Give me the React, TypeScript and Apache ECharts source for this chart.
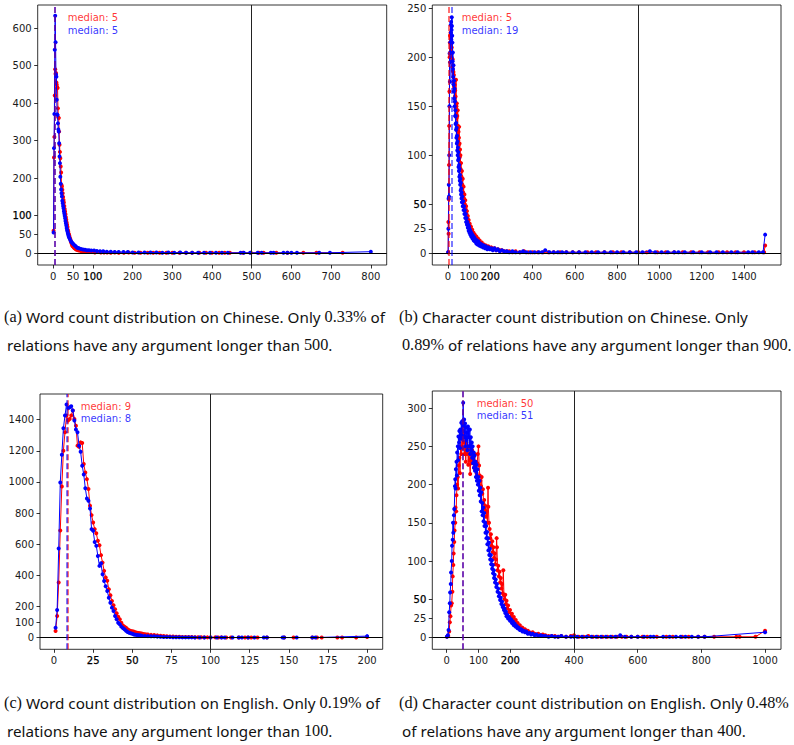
import React, { useEffect, useRef } from "react";
import * as echarts from "echarts";

type P = [number, number];

// ---- (a) word count, Chinese ----
const A_RED: P[] = [
  [1, 60], [2, 255], [3, 310], [4, 420], [5, 490], [6, 478], [7, 480], [8, 455], [9, 449], [10, 442],
  [11, 440], [12, 386], [13, 362], [14, 360], [15, 324], [16, 289], [17, 270], [18, 253], [19, 231], [20, 215],
  [21, 182], [22, 178], [23, 169], [24, 160], [25, 150], [26, 142], [27, 135], [28, 126], [29, 118], [30, 111],
  [31, 104], [32, 96], [33, 89], [34, 82], [35, 76], [36, 70], [37, 62], [38, 58], [39, 52], [40, 49],
  [41, 45], [42, 40], [43, 38], [44, 34], [45, 30], [46, 27], [47, 24], [48, 20], [50, 18], [52, 15],
  [54, 13], [56, 12], [58, 10], [60, 9], [63, 8], [66, 7], [70, 6], [74, 5], [78, 5], [82, 4],
  [87, 4], [92, 3], [98, 3], [105, 2], [112, 3], [120, 2], [128, 2], [136, 2], [145, 1], [155, 2],
  [165, 1], [178, 1], [190, 2], [205, 1], [220, 1], [238, 1], [252, 1], [268, 1], [285, 1], [300, 1],
  [318, 1], [334, 1], [350, 1], [368, 1], [385, 1], [400, 1], [418, 1], [432, 1], [445, 1], [478, 1],
  [498, 1], [518, 1], [530, 1], [562, 1], [590, 1], [630, 1], [663, 1], [729, 1],
];
const A_BLUE: P[] = [
  [1, 55], [2, 280], [3, 371], [4, 542], [5, 633], [6, 562], [7, 476], [8, 470], [9, 409], [10, 370],
  [11, 368], [12, 346], [13, 330], [14, 324], [15, 293], [16, 258], [17, 240], [18, 204], [19, 185], [20, 170],
  [21, 160], [22, 151], [23, 140], [24, 133], [25, 126], [26, 120], [27, 112], [28, 106], [29, 100], [30, 93],
  [31, 86], [32, 80], [33, 74], [34, 67], [35, 62], [36, 58], [37, 53], [38, 49], [39, 45], [40, 42],
  [42, 38], [44, 33], [46, 30], [48, 27], [50, 25], [53, 22], [56, 19], [59, 16], [62, 14], [65, 13],
  [70, 11], [75, 10], [80, 9], [85, 8], [90, 8], [96, 7], [103, 7], [110, 6], [118, 5], [126, 5],
  [135, 4], [145, 4], [155, 3], [165, 3], [177, 3], [188, 3], [200, 2], [215, 2], [230, 2], [245, 2],
  [260, 2], [275, 1], [290, 2], [305, 1], [320, 2], [335, 1], [350, 1], [365, 1], [380, 1], [395, 1],
  [410, 1], [425, 1], [440, 1], [472, 1], [480, 1], [496, 1], [515, 1], [525, 1], [548, 1], [555, 1],
  [580, 1], [590, 1], [600, 1], [614, 1], [670, 1], [697, 1], [800, 4],
];

// ---- (b) character count, Chinese ----
const B_RED: P[] = [
  [1, 1], [2, 32], [3, 20], [4, 55], [5, 90], [6, 130], [7, 165], [8, 200], [9, 215], [10, 222],
  [11, 205], [12, 225], [13, 215], [14, 220], [15, 208], [16, 215], [17, 200], [18, 210], [19, 196], [20, 205],
  [21, 190], [22, 198], [23, 186], [24, 192], [25, 180], [26, 185], [27, 175], [28, 182], [29, 170], [30, 176],
  [31, 168], [32, 172], [33, 160], [34, 166], [35, 154], [36, 160], [37, 148], [38, 177], [39, 142], [40, 150],
  [41, 138], [42, 153], [43, 130], [44, 140], [45, 125], [46, 146], [47, 120], [48, 130], [49, 115], [50, 124],
  [51, 110], [52, 118], [53, 129], [54, 106], [55, 112], [56, 98], [57, 106], [58, 92], [59, 100], [60, 86],
  [62, 92], [64, 78], [66, 84], [68, 70], [70, 76], [72, 62], [74, 68], [76, 56], [78, 60], [80, 50],
  [82, 54], [84, 45], [86, 48], [88, 40], [90, 43], [92, 36], [94, 38], [96, 32], [98, 34], [100, 28],
  [103, 30], [106, 25], [109, 27], [112, 22], [115, 24], [118, 19], [121, 21], [124, 17], [127, 19], [130, 15],
  [134, 17], [138, 13], [142, 15], [146, 11], [150, 13], [155, 9], [160, 11], [165, 8], [170, 9], [175, 7],
  [180, 8], [186, 6], [192, 7], [198, 5], [205, 6], [212, 4], [220, 5], [228, 3], [236, 4], [245, 3],
  [255, 3], [265, 2], [278, 2], [290, 2], [305, 1], [320, 2], [340, 1], [360, 2], [380, 1], [400, 1],
  [425, 1], [450, 1], [475, 1], [500, 1], [530, 1], [560, 1], [590, 1], [620, 1], [660, 1], [700, 1],
  [740, 1], [780, 1], [820, 1], [860, 1], [900, 1], [940, 1], [990, 1], [1030, 1], [1070, 1], [1110, 1],
  [1150, 1], [1190, 1], [1230, 1], [1280, 1], [1320, 1], [1360, 1], [1400, 1], [1450, 1], [1495, 1], [1500, 8],
];
const B_BLUE: P[] = [
  [1, 1], [2, 25], [3, 56], [4, 70], [5, 58], [6, 100], [7, 150], [8, 204], [9, 175], [10, 195],
  [11, 215], [12, 205], [13, 233], [14, 225], [15, 236], [16, 218], [17, 228], [18, 241], [19, 232], [20, 222],
  [21, 215], [22, 196], [23, 205], [24, 188], [25, 180], [26, 192], [27, 172], [28, 165], [29, 176], [30, 158],
  [31, 168], [32, 150], [33, 155], [34, 140], [35, 146], [36, 132], [37, 140], [38, 126], [39, 133], [40, 118],
  [41, 128], [42, 112], [43, 120], [44, 105], [45, 114], [46, 100], [47, 108], [48, 95], [49, 103], [50, 88],
  [51, 97], [52, 84], [53, 90], [54, 78], [55, 86], [56, 74], [57, 80], [58, 70], [59, 76], [60, 64],
  [61, 72], [62, 60], [63, 66], [64, 56], [65, 62], [66, 52], [68, 58], [70, 48], [72, 53], [74, 44],
  [76, 48], [78, 40], [80, 44], [82, 36], [84, 40], [86, 32], [88, 36], [90, 29], [92, 32], [94, 26],
  [96, 29], [98, 23], [100, 27], [102, 21], [104, 24], [106, 19], [108, 22], [110, 17], [113, 20], [116, 15],
  [119, 18], [122, 13], [125, 16], [128, 12], [131, 14], [134, 10], [137, 13], [140, 9], [144, 12], [148, 8],
  [152, 10], [156, 7], [160, 9], [165, 6], [170, 8], [175, 5], [180, 7], [186, 4], [192, 6], [198, 4],
  [205, 5], [212, 3], [220, 5], [228, 3], [236, 4], [245, 2], [255, 3], [265, 2], [278, 2], [290, 1],
  [305, 2], [320, 1], [340, 1], [355, 2], [370, 1], [390, 1], [410, 1], [430, 1], [445, 1], [460, 3],
  [480, 1], [500, 1], [520, 1], [540, 1], [560, 1], [590, 1], [620, 1], [650, 1], [680, 1], [710, 1],
  [740, 1], [770, 1], [800, 1], [830, 1], [860, 1], [890, 1], [920, 1], [955, 2], [980, 1], [1010, 1],
  [1040, 1], [1070, 1], [1090, 1], [1120, 1], [1160, 1], [1200, 1], [1240, 1], [1270, 1], [1300, 1], [1340, 1],
  [1370, 1], [1420, 1], [1440, 1], [1470, 1], [1490, 1], [1500, 19],
];

// ---- (c) word count, English ----
const C_RED: P[] = [
  [1, 43], [2, 139], [3, 354], [4, 688], [5, 971], [6, 1200], [7, 1319], [8, 1426], [9, 1395], [10, 1404],
  [11, 1426], [12, 1458], [13, 1404], [14, 1361], [15, 1233], [16, 1225], [17, 1254], [18, 1250], [19, 1115], [20, 1061],
  [21, 1018], [22, 954], [23, 847], [24, 787], [25, 740], [26, 697], [27, 671], [28, 622], [29, 594], [30, 530],
  [31, 482], [32, 429], [33, 386], [34, 365], [35, 311], [36, 272], [37, 236], [38, 208], [39, 182], [40, 157],
  [41, 135], [42, 118], [43, 96], [44, 79], [45, 70], [46, 64], [47, 54], [48, 48], [49, 43], [50, 41],
  [51, 39], [52, 35], [53, 32], [54, 30], [55, 28], [56, 27], [57, 24], [58, 22], [59, 21], [60, 20],
  [62, 18], [64, 17], [66, 15], [68, 13], [70, 11], [72, 9], [74, 8], [76, 7], [78, 6], [80, 6],
  [82, 5], [84, 5], [86, 4], [88, 4], [90, 3], [92, 3], [94, 3], [96, 2], [98, 2], [100, 2],
  [103, 2], [105, 1], [107, 2], [110, 1], [113, 1], [118, 1], [122, 1], [124, 1], [126, 1], [130, 1],
  [136, 1], [147, 1], [153, 1], [165, 1], [168, 1], [171, 1], [181, 1], [184, 1], [193, 1], [200, 5],
];
const C_BLUE: P[] = [
  [1, 64], [2, 178], [3, 572], [4, 997], [5, 1175], [6, 1344], [7, 1426], [8, 1497], [9, 1473], [10, 1479],
  [11, 1486], [12, 1458], [13, 1394], [14, 1336], [15, 1319], [16, 1233], [17, 1194], [18, 1104], [19, 1048], [20, 960],
  [21, 894], [22, 879], [23, 830], [24, 697], [25, 686], [26, 615], [27, 590], [28, 525], [29, 461], [30, 478],
  [31, 407], [32, 364], [33, 330], [34, 300], [35, 257], [36, 225], [37, 193], [38, 172], [39, 139], [40, 118],
  [41, 96], [42, 86], [43, 71], [44, 62], [45, 54], [46, 45], [47, 36], [48, 32], [49, 28], [50, 25],
  [51, 21], [52, 19], [53, 17], [54, 16], [55, 15], [56, 13], [58, 11], [60, 10], [62, 9], [64, 9],
  [66, 7], [68, 6], [70, 5], [72, 4], [74, 4], [76, 3], [78, 3], [80, 3], [82, 2], [84, 2],
  [86, 2], [88, 2], [90, 1], [93, 1], [96, 1], [100, 1], [104, 1], [107, 1], [109, 1], [114, 1],
  [118, 1], [120, 1], [124, 1], [128, 1], [134, 1], [136, 1], [146, 1], [147, 1], [155, 1], [165, 1],
  [167, 1], [200, 10],
];

// ---- (d) character count, English ----
const D_RED: P[] = [
  [1, 1], [5, 2], [8, 8], [10, 20], [12, 28], [14, 42], [16, 45], [18, 60], [19, 80], [21, 95],
  [22, 110], [24, 125], [25, 140], [27, 150], [28, 170], [30, 165], [31, 186], [33, 200], [35, 210], [36, 195],
  [38, 225], [40, 235], [42, 215], [44, 250], [46, 240], [48, 262], [50, 248], [52, 270], [54, 255], [56, 240],
  [58, 262], [60, 230], [62, 255], [64, 240], [66, 248], [68, 226], [70, 250], [72, 232], [74, 214], [76, 240],
  [78, 228], [80, 245], [82, 232], [84, 236], [86, 222], [88, 240], [90, 226], [92, 230], [94, 215], [96, 228],
  [98, 240], [100, 250], [102, 225], [104, 212], [106, 205], [108, 198], [110, 210], [112, 188], [114, 194], [116, 175],
  [118, 180], [120, 168], [122, 172], [124, 158], [126, 165], [128, 150], [130, 196], [131, 171], [133, 150], [135, 142],
  [137, 130], [139, 135], [141, 120], [143, 126], [145, 112], [147, 118], [149, 104], [151, 110], [153, 96], [155, 102],
  [157, 130], [158, 118], [160, 88], [162, 94], [164, 80], [166, 86], [168, 72], [170, 78], [172, 64], [174, 70],
  [176, 58], [178, 88], [180, 55], [182, 50], [184, 56], [186, 44], [188, 48], [190, 38], [193, 42], [196, 33],
  [199, 36], [202, 28], [205, 31], [208, 24], [211, 27], [214, 20], [217, 23], [220, 17], [223, 19], [226, 14],
  [230, 16], [234, 12], [238, 13], [242, 10], [246, 11], [250, 8], [255, 9], [260, 7], [265, 6], [270, 7],
  [276, 5], [282, 4], [288, 5], [295, 3], [302, 4], [310, 3], [320, 2], [330, 2], [340, 2], [350, 1],
  [360, 2], [375, 1], [390, 2], [400, 3], [415, 1], [430, 1], [445, 2], [460, 1], [475, 1], [490, 1],
  [505, 1], [520, 1], [535, 1], [550, 1], [565, 1], [580, 1], [600, 1], [615, 1], [630, 1], [660, 1],
  [690, 1], [710, 1], [740, 1], [760, 1], [790, 1], [810, 1], [840, 1], [910, 1], [920, 1], [970, 1],
  [1000, 9],
];
const D_BLUE: P[] = [
  [1, 1], [4, 3], [6, 10], [8, 33], [10, 45], [11, 59], [13, 70], [14, 85], [16, 100], [17, 120],
  [19, 128], [20, 150], [21, 137], [23, 160], [24, 168], [26, 198], [27, 207], [28, 195], [29, 220], [31, 230],
  [32, 212], [33, 242], [35, 250], [36, 232], [37, 263], [39, 255], [40, 270], [42, 248], [43, 272], [45, 260],
  [46, 281], [48, 265], [49, 283], [50, 270], [52, 307], [53, 276], [55, 285], [56, 262], [58, 280], [59, 250],
  [61, 275], [62, 258], [64, 268], [65, 245], [67, 276], [68, 262], [70, 272], [71, 250], [73, 272], [74, 240],
  [76, 262], [77, 245], [79, 255], [80, 235], [82, 250], [83, 228], [85, 242], [86, 222], [88, 238], [89, 218],
  [91, 230], [92, 210], [94, 226], [95, 205], [97, 220], [98, 200], [100, 210], [101, 192], [103, 205], [104, 186],
  [106, 196], [107, 178], [109, 190], [110, 165], [112, 176], [113, 160], [115, 170], [116, 152], [118, 163], [119, 146],
  [121, 150], [122, 137], [124, 146], [125, 130], [127, 138], [128, 122], [130, 130], [131, 114], [133, 124], [134, 108],
  [136, 116], [137, 102], [139, 108], [140, 96], [142, 101], [143, 90], [145, 95], [146, 84], [148, 88], [149, 78],
  [151, 82], [152, 72], [154, 76], [156, 66], [158, 70], [160, 60], [162, 64], [164, 54], [166, 58], [168, 49],
  [170, 52], [172, 44], [174, 47], [176, 40], [178, 42], [180, 36], [182, 38], [184, 32], [186, 34], [188, 28],
  [190, 30], [193, 25], [196, 27], [199, 22], [202, 24], [205, 19], [208, 21], [211, 16], [214, 18], [217, 14],
  [220, 15], [223, 12], [226, 13], [230, 10], [234, 11], [238, 8], [242, 9], [246, 7], [250, 8], [255, 5],
  [260, 6], [265, 4], [270, 5], [276, 3], [282, 4], [288, 2], [295, 3], [302, 2], [310, 2], [320, 1],
  [330, 2], [340, 1], [350, 1], [360, 2], [375, 1], [390, 1], [400, 1], [410, 1], [425, 1], [440, 1],
  [455, 1], [470, 1], [485, 1], [500, 1], [515, 1], [530, 1], [545, 3], [560, 1], [580, 1], [600, 1],
  [620, 1], [640, 1], [650, 1], [680, 1], [700, 1], [720, 1], [735, 1], [750, 1], [770, 1], [790, 1],
  [810, 1], [1000, 7],
];

const RED_SERIES = [A_RED, B_RED, C_RED, D_RED];
const BLUE_SERIES = [A_BLUE, B_BLUE, C_BLUE, D_BLUE];
const MEDIAN_RED = [5, 5, 9, 50];
const MEDIAN_BLUE = [5, 19, 8, 51];
const THRESHOLDS = [500, 900, 100, 400];

const X_TICKS = [
  [0, 50, 100, 200, 300, 400, 500, 600, 700, 800],
  [0, 100, 200, 400, 600, 800, 1000, 1200, 1400],
  [0, 25, 50, 75, 100, 125, 150, 175, 200],
  [0, 100, 200, 400, 600, 800, 1000],
];
const Y_TICKS = [
  [0, 50, 100, 200, 300, 400, 500, 600],
  [0, 25, 50, 100, 150, 200, 250],
  [0, 50, 100, 200, 400, 600, 800, 1000, 1200, 1400],
  [0, 25, 50, 100, 150, 200, 250, 300],
];
// tick labels that were drawn twice in the original (look heavier)
const X_DOUBLE = [[100], [200], [25, 50], [200]];
const Y_DOUBLE = [[100], [50], [], [50]];

// axis ranges and plot-box layout (pixels)
const X_RANGE = [[-39, 840], [-74, 1575], [-8.95, 209.95], [-45, 1050]];
const Y_RANGE = [[-31.5, 661.5], [-12, 253.4], [-74.5, 1564.5], [-15.35, 322.4]];
const BOXES = [
  { left: 37.7, top: 5, width: 349, height: 260 },
  { left: 432.3, top: 5, width: 348.7, height: 260 },
  { left: 40, top: 394, width: 342.7, height: 255.3 },
  { left: 432.3, top: 391, width: 348.7, height: 258.3 },
];
const MEDIAN_TEXT_POS = [
  [67.7, 17.3, 30],
  [461.7, 17.3, 30],
  [80.7, 406, 418.5],
  [476.7, 403.5, 415.5],
];

type Seg = [string, string];
const CAPTIONS: { x: number; y: number; parts: Seg[] }[] = [
  { x: 4, y: 317, parts: [["m", "(a)"], ["s", " Word count distribution on Chinese. Only "], ["m", "0.33%"], ["s", " of"]] },
  { x: 7, y: 345, parts: [["s", "relations have any argument longer than "], ["m", "500"], ["s", "."]] },
  { x: 399, y: 317, parts: [["m", "(b)"], ["s", " Character count distribution on Chinese. Only"]] },
  { x: 402, y: 345, parts: [["m", "0.89%"], ["s", " of relations have any argument longer than "], ["m", "900"], ["s", "."]] },
  { x: 4, y: 703, parts: [["m", "(c)"], ["s", " Word count distribution on English. Only "], ["m", "0.19%"], ["s", " of"]] },
  { x: 7, y: 731, parts: [["s", "relations have any argument longer than "], ["m", "100"], ["s", "."]] },
  { x: 399, y: 703, parts: [["m", "(d)"], ["s", " Character count distribution on English. Only "], ["m", "0.48%"]] },
  { x: 402, y: 731, parts: [["s", "of relations have any argument longer than "], ["m", "400"], ["s", "."]] },
];

const SANS = '"Noto Sans"';
const SERIF = '"Liberation Serif"';
const S_SIZE = 15;
const M_SIZE = 16;

function measureParts(parts: Seg[]): number {
  const c = document.createElement("canvas");
  const ctx = c.getContext("2d")!;
  let w = 0;
  for (const [k, t] of parts) {
    ctx.font = k === "m" ? `${M_SIZE}px ${SERIF}` : `${S_SIZE}px ${SANS}`;
    w += ctx.measureText(t).width;
  }
  return w;
}

const LABEL_FONT = "DejaVu Sans";

export default function App() {
  const ref = useRef<HTMLDivElement>(null);
  useEffect(() => {
    if (!ref.current) return;
    const chart = echarts.init(ref.current, undefined, { renderer: "svg" });

    const grids = BOXES.map((b) => ({
      ...b,
      show: true,
      borderColor: "#000",
      borderWidth: 0.8,
      backgroundColor: "transparent",
      containLabel: false,
      outerBoundsMode: "none",
    }));

    const mkAxis = (i: number, dir: "x" | "y") => {
      const ticks = dir === "x" ? X_TICKS[i] : Y_TICKS[i];
      const dbl = dir === "x" ? X_DOUBLE[i] : Y_DOUBLE[i];
      const range = dir === "x" ? X_RANGE[i] : Y_RANGE[i];
      return {
        type: "value",
        gridIndex: i,
        min: range[0],
        max: range[1],
        position: dir === "x" ? "bottom" : "left",
        splitLine: { show: false },
        axisLine: { show: false, onZero: false },
        axisTick: {
          show: true,
          length: 3.5,
          customValues: ticks,
          lineStyle: { color: "#000", width: 0.8 },
        },
        axisLabel: {
          show: true,
          customValues: ticks,
          hideOverlap: false,
          showMinLabel: true,
          showMaxLabel: true,
          margin: 6,
          color: "#1a1a1a",
          fontFamily: LABEL_FONT,
          fontSize: 10,
          formatter: (v: number) => (dbl.includes(v) ? `{b|${v}}` : `${v}`),
          rich: {
            b: {
              fontFamily: LABEL_FONT,
              fontSize: 10,
              color: "#000",
              textBorderColor: "#000",
              textBorderWidth: 0.25,
            },
          },
        },
      };
    };

    const series: any[] = [];
    for (let i = 0; i < 4; i++) {
      series.push({
        type: "line",
        xAxisIndex: i,
        yAxisIndex: i,
        data: RED_SERIES[i],
        symbol: "circle",
        symbolSize: 4,
        itemStyle: { color: "#ff0000" },
        lineStyle: { color: "#ff0000", width: 1 },
        silent: true,
        z: 2,
        markLine: {
          silent: true,
          symbol: ["none", "none"],
          label: { show: false },
          animation: false,
          data: [
            { xAxis: THRESHOLDS[i], lineStyle: { color: "#222", width: 1, type: "solid" } },
            { yAxis: 0, lineStyle: { color: "#000", width: 1, type: "solid" } },
            { xAxis: MEDIAN_RED[i], lineStyle: { color: "rgba(255,0,0,0.7)", width: 1.6, type: [6, 3] } },
          ],
        },
      });
      series.push({
        type: "line",
        xAxisIndex: i,
        yAxisIndex: i,
        data: BLUE_SERIES[i],
        symbol: "circle",
        symbolSize: 4,
        itemStyle: { color: "#0000ff" },
        lineStyle: { color: "#0000ff", width: 1 },
        silent: true,
        z: 3,
        markLine: {
          silent: true,
          symbol: ["none", "none"],
          label: { show: false },
          animation: false,
          data: [
            { xAxis: MEDIAN_BLUE[i], lineStyle: { color: "rgba(0,0,255,0.65)", width: 1.6, type: [6, 3] } },
          ],
        },
      });
    }

    const graphic: any[] = [];
    for (let i = 0; i < 4; i++) {
      const [x, y1, y2] = MEDIAN_TEXT_POS[i];
      graphic.push({
        type: "text",
        x,
        y: y1,
        silent: true,
        style: {
          text: `median: ${MEDIAN_RED[i]}`,
          fill: "rgba(255,0,0,0.8)",
          font: `10px "${LABEL_FONT}"`,
          verticalAlign: "middle",
          align: "left",
        },
      });
      graphic.push({
        type: "text",
        x,
        y: y2,
        silent: true,
        style: {
          text: `median: ${MEDIAN_BLUE[i]}`,
          fill: "rgba(0,0,255,0.8)",
          font: `10px "${LABEL_FONT}"`,
          verticalAlign: "middle",
          align: "left",
        },
      });
    }

    // caption horizontal scale fitted on the first caption line
    const natural = measureParts(CAPTIONS[0].parts);
    const sx = natural > 0 ? 381 / natural : 1;
    for (const c of CAPTIONS) {
      const text = c.parts.map(([k, t]) => `{${k}|${t}}`).join("");
      graphic.push({
        type: "text",
        x: c.x,
        y: c.y,
        scaleX: sx,
        scaleY: 1,
        originX: 0,
        originY: 0,
        silent: true,
        style: {
          text,
          verticalAlign: "middle",
          align: "left",
          fill: "#111",
          rich: {
            s: { fontFamily: "Noto Sans", fontSize: S_SIZE, fill: "#111", color: "#111" },
            m: { fontFamily: "Liberation Serif", fontSize: M_SIZE, fill: "#111", color: "#111" },
          },
        },
      });
    }

    chart.setOption({
      animation: false,
      backgroundColor: "#fff",
      grid: grids,
      xAxis: [0, 1, 2, 3].map((i) => mkAxis(i, "x")),
      yAxis: [0, 1, 2, 3].map((i) => mkAxis(i, "y")),
      series,
      graphic,
    } as any);

    return () => chart.dispose();
  }, []);

  return (
    <div
      ref={ref}
      style={{ position: "absolute", left: 0, top: 0, width: 794, height: 745, background: "#fff" }}
    />
  );
}
